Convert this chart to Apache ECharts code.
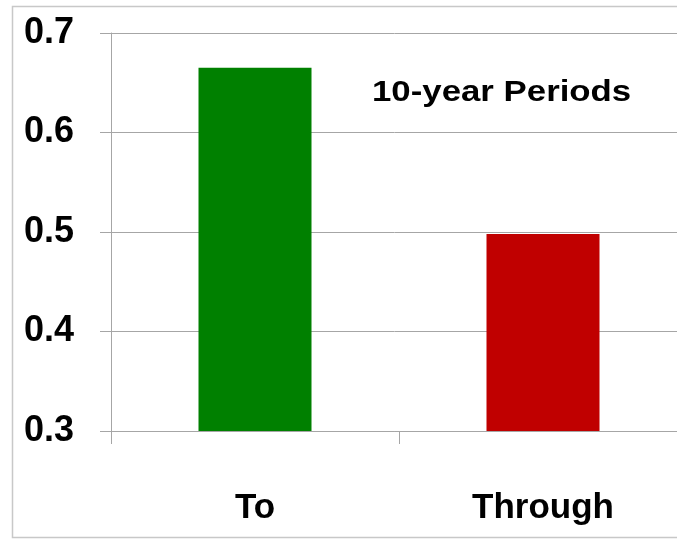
<!DOCTYPE html>
<html>
<head>
<meta charset="utf-8">
<script src="https://cdn.jsdelivr.net/npm/echarts@6/dist/echarts.min.js"></script>
<style>
  html, body { margin: 0; padding: 0; background: #fff; }
  #chart { width: 677px; height: 546px; }
</style>
</head>
<body>
<div id="chart"></div>
<script>
// 数据
const categories = ['To', 'Through']
const values = [0.665, 0.498]
const barColors = ['#008000', '#C00000']
const yTicks = [0.3, 0.4, 0.5, 0.6, 0.7]
const noteText = '10-year Periods'

const myChart = echarts.init(document.getElementById('chart'))

const labelFont = {
  fontFamily: '"Liberation Sans Narrow", "Liberation Sans", Arial, sans-serif',
  fontWeight: 'bold',
  color: '#000'
}

myChart.setOption({
  animation: false,
  backgroundColor: '#fff',
  grid: {
    left: 111,
    top: 33,
    bottom: 115,
    width: 576,
    outerBoundsMode: 'none'
  },
  xAxis: {
    type: 'category',
    data: categories,
    axisLine: { lineStyle: { color: '#a6a6a6', width: 1 } },
    axisTick: { show: true, alignWithLabel: false, length: 13, lineStyle: { color: '#a6a6a6' } },
    axisLabel: Object.assign({ fontSize: 35, margin: 60 }, labelFont)
  },
  yAxis: {
    type: 'value',
    min: yTicks[0],
    max: yTicks[yTicks.length - 1],
    interval: 0.1,
    axisLine: { show: true, lineStyle: { color: '#a6a6a6', width: 1 } },
    axisTick: { show: true, length: 11, lineStyle: { color: '#a6a6a6' } },
    splitLine: { lineStyle: { color: '#a6a6a6', width: 1 } },
    axisLabel: Object.assign({
      fontSize: 36,
      margin: 37,
      formatter: (v) => v.toFixed(1)
    }, labelFont)
  },
  graphic: [
    {
      type: 'rect',
      shape: { x: 12.5, y: 6.5, width: 700, height: 531 },
      style: { fill: 'none', stroke: '#c8c8c8', lineWidth: 1.5 },
      silent: true
    },
    {
      type: 'text',
      left: 372,
      top: 78,
      scaleX: 1.2,
      style: {
        text: noteText,
        fontSize: 29,
        fontWeight: 'bold',
        fontFamily: '"Liberation Sans", Arial, sans-serif',
        fill: '#000'
      }
    }
  ],
  series: [
    {
      type: 'bar',
      barWidth: 113,
      data: values.map((v, i) => ({ value: v, itemStyle: { color: barColors[i] } }))
    }
  ]
})

window.addEventListener('resize', () => {
  myChart.resize()
})
</script>
</body>
</html>
